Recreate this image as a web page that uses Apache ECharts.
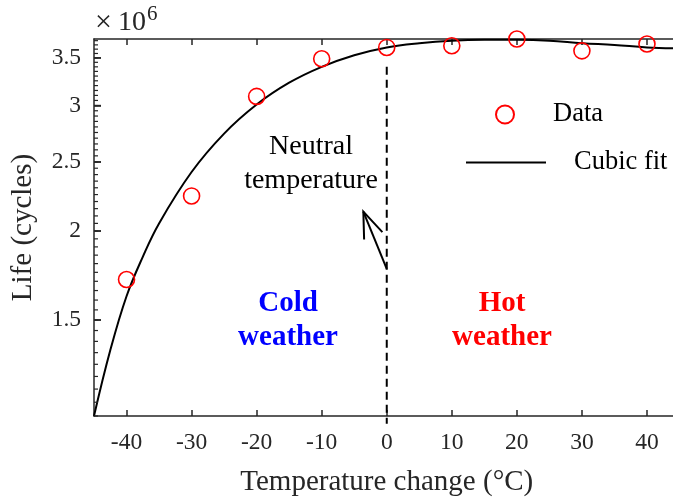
<!DOCTYPE html>
<html>
<head>
<meta charset="utf-8">
<script src="https://cdn.jsdelivr.net/npm/echarts@6/dist/echarts.min.js"></script>
<style>
  html, body { margin: 0; padding: 0; background: #ffffff; }
  #chart { width: 673px; height: 497px; }
</style>
</head>
<body>
<div id="chart"></div>
<script>
// Measured fatigue life (millions of cycles) against temperature change
const temps = [-40, -30, -20, -10, 0, 10, 20, 30, 40];
const life = [1.71, 2.24, 3.09, 3.49, 3.62, 3.64, 3.72, 3.58, 3.66];

// Cubic fit curve, sampled along the temperature range
const fitTemps = [-45, -42.5, -40, -37.5, -35, -30, -25, -20, -15, -10, -5, 0, 5, 10, 15, 20, 25, 30, 35, 40, 45];
const fitLife = [1.10, 1.36, 1.62, 1.84, 2.05, 2.42, 2.74, 3.01, 3.23, 3.40, 3.53, 3.62, 3.67, 3.70, 3.71, 3.71, 3.70, 3.67, 3.65, 3.62, 3.61];

// Axis ticks
const xTicks = [-40, -30, -20, -10, 0, 10, 20, 30, 40];
const yMajorTicks = [1.5, 2, 2.5, 3, 3.5];
const yMinorStep = 0.05;
const yMin = 1.1, yMax = 3.72;
const xMin = -45, xMax = 45;

const FONT = '"Liberation Serif", "Times New Roman", serif';
const INK = '#262626';
const lg = Math.log10;

const yMinorTicks = [];
for (let k = 0; yMin + k * yMinorStep <= yMax + 1e-9; k++) {
  yMinorTicks.push(+(yMin + k * yMinorStep).toFixed(2));
}

// Tick marks of the left (log) axis: [x, log value, length]
const leftTickMarks = yMinorTicks.map(v => [xMin, lg(v), 4])
  .concat(yMajorTicks.map(v => [xMin, lg(v), 7]));

const option = {
  backgroundColor: '#ffffff',
  animation: false,
  grid: { left: 94, top: 39, right: -6.5, bottom: 81, containLabel: false, outerBoundsMode: 'none' },
  xAxis: [
    {
      type: 'value', min: xMin, max: xMax, position: 'bottom',
      name: 'Temperature change (\u00B0C)', nameLocation: 'middle', nameGap: 52,
      nameTextStyle: { fontFamily: FONT, fontSize: 29, color: INK },
      axisLine: { show: true, onZero: false, lineStyle: { color: INK, width: 1.5 } },
      axisTick: { show: true, inside: true, length: 6, customValues: xTicks, lineStyle: { color: INK, width: 1.5 } },
      axisLabel: {
        show: true, customValues: xTicks, margin: 15,
        fontFamily: FONT, fontSize: 23.5, color: INK,
        formatter: v => String(v)
      },
      splitLine: { show: false }
    },
    {
      type: 'value', min: xMin, max: xMax, position: 'top',
      axisLine: { show: true, onZero: false, lineStyle: { color: INK, width: 1.5 } },
      axisTick: { show: true, inside: true, length: 6, customValues: xTicks, lineStyle: { color: INK, width: 1.5 } },
      axisLabel: { show: false },
      splitLine: { show: false }
    }
  ],
  yAxis: [
    {
      type: 'value', min: lg(yMin), max: lg(yMax), position: 'left',
      name: 'Life (cycles)', nameLocation: 'middle', nameGap: 56,
      nameTextStyle: { fontFamily: FONT, fontSize: 29, color: INK },
      axisLine: { show: true, onZero: false, lineStyle: { color: INK, width: 1.5 } },
      axisTick: { show: true, inside: true, length: 7, customValues: yMajorTicks.map(lg), lineStyle: { color: INK, width: 1.5 } },
      axisLabel: {
        show: true, customValues: yMajorTicks.map(lg), margin: 13, padding: [4, 0, 0, 0],
        fontFamily: FONT, fontSize: 23.5, color: INK,
        formatter: v => String(+Math.pow(10, v).toFixed(1))
      },
      splitLine: { show: false }
    }
  ],
  legend: [
    {
      data: ['Data'], left: 495, top: 101, orient: 'vertical', padding: 0,
      itemWidth: 80, itemHeight: 18, itemGap: 0,
      textStyle: { fontFamily: FONT, fontSize: 26.5, color: '#000', padding: [0, 0, 0, 3] }
    },
    {
      data: ['Cubic fit'], left: 465, top: 149, orient: 'vertical', padding: 0,
      itemWidth: 80, itemHeight: 18, itemGap: 0,
      itemStyle: { color: 'rgba(0,0,0,0)', borderWidth: 0, opacity: 0 },
      textStyle: { fontFamily: FONT, fontSize: 26.5, color: '#000', padding: [0, 0, 0, 23] }
    }
  ],
  series: [
    {
      name: 'Cubic fit', type: 'line', xAxisIndex: 0, yAxisIndex: 0,
      data: fitTemps.map((t, i) => [t, lg(fitLife[i])]),
      smooth: 0.4, symbol: 'none', showSymbol: false,
      lineStyle: { color: '#000000', width: 2 },
      itemStyle: { color: '#000000' },
      z: 2
    },
    {
      name: 'Data', type: 'scatter', xAxisIndex: 0, yAxisIndex: 0,
      data: temps.map((t, i) => [t, lg(life[i])]),
      symbol: 'circle', symbolSize: 16, clip: false,
      itemStyle: { color: 'rgba(255,255,255,0)', borderColor: '#ff0000', borderWidth: 1.6, opacity: 1 },
      z: 3
    },
    {
      // inward tick marks along the log axis, placed through the axis scale
      name: 'leftTicks', type: 'custom', xAxisIndex: 0, yAxisIndex: 0,
      data: leftTickMarks, clip: false, silent: true, z: 4,
      renderItem: (params, api) => {
        const p = api.coord([api.value(0), api.value(1)]);
        const len = api.value(2);
        return {
          type: 'line',
          shape: { x1: p[0], y1: p[1], x2: p[0] + len, y2: p[1] },
          style: { stroke: INK, lineWidth: len > 5 ? 1.5 : 1.2 }
        };
      }
    }
  ]
};

const chart = echarts.init(document.getElementById('chart'), null, { renderer: 'canvas' });
chart.setOption(option);

// Pixel position of a (temperature, life) pair on the plot
const px = (t, v) => chart.convertToPixel({ xAxisIndex: 0, yAxisIndex: 0 }, [t, lg(v)]);

// Neutral-temperature divider and pointer arrow
const divTop = px(0, 3.40), divBot = px(0, 1.073);
const tail = px(0, 1.77), tip = px(-3.6, 2.13);
const ang = Math.atan2(tail[1] - tip[1], tail[0] - tip[0]);
const wing = 28, spread = 0.36;
const w1 = [tip[0] + wing * Math.cos(ang + spread), tip[1] + wing * Math.sin(ang + spread)];
const w2 = [tip[0] + wing * Math.cos(ang - spread), tip[1] + wing * Math.sin(ang - spread)];

const textEl = (x, y, text, size, color, bold) => ({
  type: 'text', x: x, y: y, silent: true,
  style: {
    text: text, fill: color, fontFamily: FONT, fontSize: size,
    fontWeight: bold ? 'bold' : 'normal', textAlign: 'center', textVerticalAlign: 'middle'
  }
});

chart.setOption({
  graphic: [
    {
      type: 'line', silent: true, z: 1,
      shape: { x1: divTop[0], y1: divTop[1], x2: divBot[0], y2: divBot[1] },
      style: { stroke: '#000', lineWidth: 2, lineDash: [8, 5] }
    },
    {
      type: 'line', silent: true,
      shape: { x1: tail[0], y1: tail[1], x2: tip[0], y2: tip[1] },
      style: { stroke: '#000', lineWidth: 2 }
    },
    {
      type: 'polyline', silent: true,
      shape: { points: [w1, tip, w2] },
      style: { stroke: '#000', lineWidth: 2, fill: null }
    },
    textEl(311, 147, 'Neutral', 28, '#000', false),
    textEl(311, 181, 'temperature', 28, '#000', false),
    textEl(288, 304, 'Cold', 29, '#0000ff', true),
    textEl(288, 338, 'weather', 29, '#0000ff', true),
    textEl(502, 304, 'Hot', 29, '#ff0000', true),
    textEl(502, 338, 'weather', 29, '#ff0000', true),
    {
      type: 'text', x: 95, y: 23, silent: true,
      style: { text: '\u00D7', fill: INK, fontFamily: FONT, fontSize: 30, textAlign: 'left', textVerticalAlign: 'middle' }
    },
    {
      type: 'text', x: 118, y: 23, silent: true,
      style: { text: '10', fill: INK, fontFamily: FONT, fontSize: 28, textAlign: 'left', textVerticalAlign: 'middle' }
    },
    {
      type: 'text', x: 147, y: 14, silent: true,
      style: { text: '6', fill: INK, fontFamily: FONT, fontSize: 21, textAlign: 'left', textVerticalAlign: 'middle' }
    }
  ]
});
</script>
</body>
</html>
